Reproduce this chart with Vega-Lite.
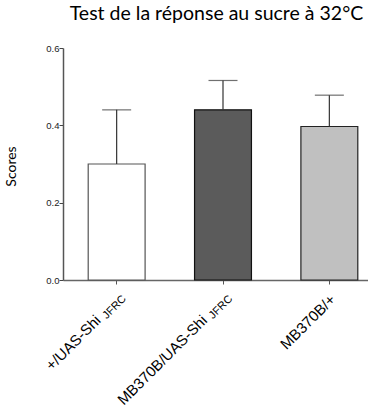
{
  "$schema": "https://vega.github.io/schema/vega-lite/v6.json",
  "autosize": {"type": "none"},
  "padding": {"left": 63, "top": 48, "right": 0, "bottom": 130},
  "width": 305,
  "height": 232,
  "background": "white",
  "config": {"view": {"stroke": null}},
  "title": {
    "text": "Test de la réponse au sucre à 32°C",
    "font": "Lato",
    "fontSize": 19.5,
    "fontWeight": "normal",
    "color": "#000",
    "anchor": "middle",
    "dx": 1,
    "offset": 19
  },
  "data": {
    "values": [
      {"genotype": "+/UAS-Shi JFRC", "score": 0.30, "upper": 0.44},
      {"genotype": "MB370B/UAS-Shi JFRC", "score": 0.44, "upper": 0.516},
      {"genotype": "MB370B/+", "score": 0.397, "upper": 0.478}
    ]
  },
  "resolve": {"scale": {"x": "independent"}, "axis": {"x": "independent"}},
  "layer": [
    {
      "encoding": {
        "x": {
          "field": "genotype",
          "type": "nominal",
          "sort": null,
          "scale": {"range": [0, 320], "paddingInner": 0.465, "paddingOuter": 0.237},
          "axis": {
            "orient": "bottom",
            "title": null,
            "labelExpr": "replace(datum.label, ' JFRC', '')",
            "labelAngle": -45,
            "labelAlign": "right",
            "labelBaseline": "alphabetic",
            "labelFont": "Liberation Sans",
            "labelFontSize": 15,
            "labelColor": "#000",
            "labelOffset": {"condition": {"test": "datum.value != 'MB370B/+'", "value": -15}, "value": 7},
            "labelPadding": {"condition": {"test": "datum.value != 'MB370B/+'", "value": 37}, "value": 16},
            "labelOverlap": false,
            "labelLimit": 0,
            "tickSize": 4,
            "tickColor": "#555",
            "domainColor": "#666",
            "domainWidth": 1.5,
            "grid": false
          }
        }
      },
      "layer": [
        {
          "mark": {"type": "bar", "strokeWidth": 1.2},
          "encoding": {
            "y": {
              "field": "score",
              "type": "quantitative",
              "scale": {"domain": [0, 0.6], "nice": false},
              "axis": {
                "title": "Scores",
                "titleFont": "Lato",
                "titleFontSize": 14,
                "titleFontWeight": "normal",
                "titleColor": "#000",
                "titleX": -52,
                "titleY": 118,
                "titleAngle": -90,
                "titleAlign": "center",
                "titleBaseline": "middle",
                "values": [0, 0.2, 0.4, 0.6],
                "format": ".1f",
                "labelFont": "Liberation Sans",
                "labelFontSize": 9.5,
                "labelColor": "#222",
                "labelPadding": 0,
                "tickSize": 4,
                "tickColor": "#444",
                "domainColor": "#555",
                "domainWidth": 1.5,
                "grid": false
              }
            },
            "fill": {
              "field": "genotype",
              "type": "nominal",
              "sort": null,
              "scale": {"range": ["#ffffff", "#5b5b5b", "#c0c0c0"]},
              "legend": null
            },
            "stroke": {
              "field": "genotype",
              "type": "nominal",
              "sort": null,
              "scale": {"range": ["#555555", "#111111", "#222222"]},
              "legend": null
            }
          }
        },
        {
          "mark": {"type": "rule", "color": "#333", "strokeWidth": 1.2},
          "encoding": {
            "y": {"field": "score", "type": "quantitative"},
            "y2": {"field": "upper"}
          }
        }
      ]
    },
    {
      "mark": {"type": "tick", "orient": "horizontal", "size": 29, "thickness": 1.2, "color": "#333"},
      "encoding": {
        "x": {
          "field": "genotype",
          "type": "nominal",
          "sort": null,
          "scale": {"range": [0, 320], "paddingInner": 0.465, "paddingOuter": 0.237},
          "axis": {
            "orient": "bottom",
            "title": null,
            "labelExpr": "indexof(datum.label, 'JFRC') >= 0 ? 'JFRC' : ''",
            "labelAngle": -45,
            "labelAlign": "right",
            "labelBaseline": "alphabetic",
            "labelFont": "Liberation Sans",
            "labelFontSize": 11,
            "labelColor": "#000",
            "labelOffset": 10,
            "labelPadding": 19,
            "labelOverlap": false,
            "ticks": false,
            "domain": false,
            "grid": false
          }
        },
        "y": {"field": "upper", "type": "quantitative"}
      }
    }
  ]
}
